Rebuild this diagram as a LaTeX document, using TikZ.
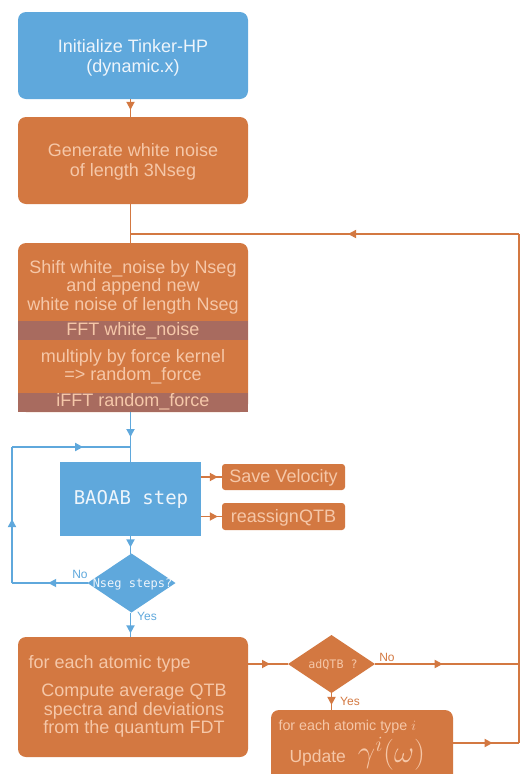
\documentclass[tikz,border=0pt]{standalone}
\usepackage{fix-cm}
\usepackage{fontspec}
\setmainfont{Liberation Sans}
\setmonofont{DejaVu Sans Mono}
\usetikzlibrary{arrows.meta,shapes.geometric,decorations.markings}
\definecolor{qblue}{HTML}{5FA8DC}
\definecolor{qorange}{HTML}{D37841}
\definecolor{qband}{HTML}{A86B5F}
\definecolor{qtxtO}{HTML}{F5C7A8}
\definecolor{qtxtB}{HTML}{EEF5FB}
\begin{document}
\begin{tikzpicture}[x=1pt,y=-1pt,
  base/.style={inner sep=0pt, outer sep=0pt},
  obox/.style={base, rectangle, rounded corners=8pt, fill=qorange},
  bbox/.style={base, rectangle, rounded corners=8pt, fill=qblue},
  band/.style={base, rectangle, fill=qband, minimum width=230pt, minimum height=19pt},
  otext/.style={text=qtxtO, align=center, font=\fontsize{18}{18.5}\selectfont},
  btext/.style={text=qtxtB, align=center, font=\fontsize{18}{19.5}\selectfont},
  oline/.style={draw=qorange, line width=1.8pt},
  bline/.style={draw=qblue, line width=1.8pt},
  tipat/.style={postaction={decorate}, decoration={markings,
      mark=at position #1 with {\arrow{Triangle[length=8pt,width=8pt]}}}},
  lblB/.style={text=qblue, font=\fontsize{12}{14}\selectfont},
  lblO/.style={text=qorange, font=\fontsize{12}{14}\selectfont},
]
\useasboundingbox (0,0) rectangle (520,774);

% vertical guide
\coordinate (cx) at (130.5,0);

% boxes
\node[bbox, minimum width=230pt, minimum height=87pt] (b1) at (133,55.5) {};
\node[btext] (t1) at (133,58) {Initialize Tinker-HP\\(dynamic.x)};

\node[obox, minimum width=230pt, minimum height=87pt] (b2) at (133,160.5) {};
\node[otext, font=\fontsize{18}{19.5}\selectfont] (t2) at (133,162) {Generate white noise\\of length 3Nseg};

\node[obox, minimum width=230pt, minimum height=169pt] (b3) at (133,327.5) {};
\node[otext] (t3) at (133,287) {Shift white\_noise by Nseg\\and append new\\white noise of length Nseg};
\node[band] (fft) at (133,330.5) {};
\node[otext] (tfft) at (133,331) {FFT white\_noise};
\node[otext] (tmul) at (133,367) {multiply by force kernel\\=> random\_force};
\node[band] (ifft) at (133,402.5) {};
\node[otext] (tifft) at (133,402) {iFFT random\_force};

\node[base, rectangle, fill=qblue, minimum width=141pt, minimum height=74pt] (bao) at (130.5,499) {};
\node[text=qtxtB, font=\ttfamily\fontsize{19}{21}\selectfont] (tbao) at (131,499) {BAOAB step};

\node[obox, rounded corners=3pt, minimum width=123pt, minimum height=26pt] (sv) at (283.5,477) {};
\node[otext] (tsv) at (283.5,478) {Save Velocity};
\node[obox, rounded corners=3pt, minimum width=123pt, minimum height=27pt] (rq) at (283.5,516.5) {};
\node[otext] (trq) at (283.5,517.5) {reassignQTB};

\node[base, diamond, fill=qblue, minimum width=88pt, minimum height=59pt] (d1) at (131.5,583) {};
\node[text=qtxtB, font=\ttfamily\fontsize{12}{14}\selectfont] (td1) at (132.5,584) {Nseg steps?};

\node[obox, minimum width=230pt, minimum height=120pt] (bb) at (133,697) {};
\node[otext, anchor=west] (tbb1) at (25,664) {for each atomic type};
\node[otext] (tbb2) at (134,711) {Compute average QTB\\spectra and deviations\\from the quantum FDT};

\node[base, diamond, fill=qorange, minimum width=87pt, minimum height=58pt] (d2) at (331.5,664) {};
\node[text=qtxtO, font=\ttfamily\fontsize{11.7}{13}\selectfont] (td2) at (333,665) {adQTB ?};

\node[obox, minimum width=182pt, minimum height=100pt] (up) at (362,760) {};
\node[otext, font=\fontsize{14.3}{16}\selectfont, anchor=west] (tup1) at (275,727) {for each atomic type $i$};
\node[otext, font=\fontsize{17.5}{22}\selectfont, anchor=west] (tup2) at (286,754) {Update\hspace{12pt}{\fontsize{31}{32}\selectfont$\gamma^i(\omega)$}};

% helper coordinates
\coordinate (rx) at (519,0);
\coordinate (fb) at (130.5,234);
\coordinate (tr) at (519,234);
\coordinate (br) at (519,743);
\coordinate (lp) at (12,447);
\coordinate (lb) at (12,583);
\coordinate (lj) at (130.5,447);

% orange connectors
\draw[oline, tipat=0.6] (b1.south -| cx) -- (b2.north -| cx);
\draw[oline] (b2.south -| cx) -- (b3.north -| cx);
\draw[oline, tipat=0.44] (tr) -- (fb);
\draw[oline] (br) -- (tr);
\draw[oline, tipat=0.47] (d2.east) -- (d2.east -| rx);
\draw[oline, tipat=0.6] (up.east |- br) -- (br);
\draw[oline, tipat=0.55] (d2.west -| bb.east) -- (d2.west);
\draw[oline, tipat=0.7] (d2.south) -- (d2.south |- up.north);
\draw[oline, tipat=0.8] (bao.east |- sv) -- (sv.west);
\draw[oline, tipat=0.8] (bao.east |- rq) -- (rq.west);

% blue connectors
\draw[bline, tipat=0.5] (ifft.south -| cx) -- (bao.north -| cx);
\draw[bline, tipat=0.52] (d1.west) -- (lb);
\draw[bline, tipat=0.47] (lb) -- (lp);
\draw[bline, tipat=0.6] (lp) -- (lj);
\draw[bline, tipat=0.65] (bao.south -| cx) -- (d1.north -| cx);
\draw[bline, tipat=0.85] (d1.south -| cx) -- (bb.north -| cx);

% labels
\node[lblB] (no1) at (80,574) {No};
\node[lblB] (yes1) at (147,616) {Yes};
\node[lblO] (no2) at (387,657) {No};
\node[lblO] (yes2) at (350,701) {Yes};
\end{tikzpicture}
\end{document}
